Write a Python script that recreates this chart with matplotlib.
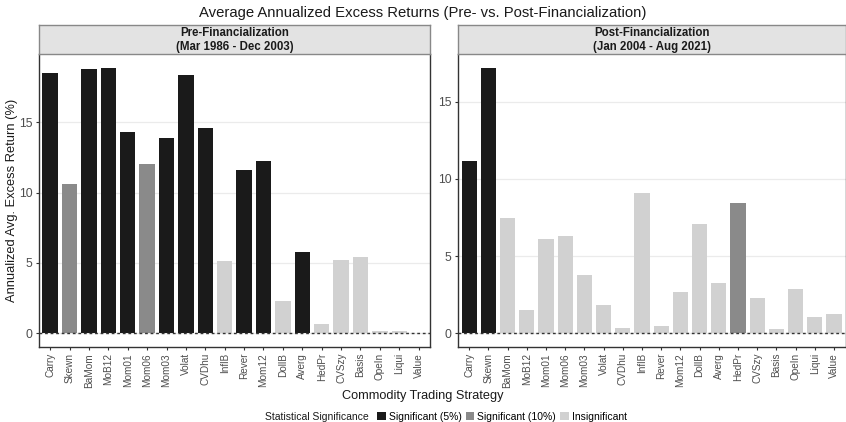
import matplotlib
matplotlib.use("Agg")
import matplotlib.pyplot as plt
from matplotlib.patches import Patch
import numpy as np

plt.rcParams['font.family'] = ['Liberation Sans', 'DejaVu Sans']

strategies = ["Carry", "Skewn", "BaMom", "MoB12", "Mom01", "Mom06", "Mom03", "Volat",
              "CVDhu", "InflB", "Rever", "Mom12", "DollB", "Averg", "HedPr", "CVSzy",
              "Basis", "OpeIn", "Liqui", "Value"]

pre_returns = [18.5, 10.6, 18.75, 18.87, 14.3, 12.05, 13.9, 18.35, 14.6, 5.15,
               11.6, 12.25, 2.3, 5.8, 0.68, 5.22, 5.45, 0.18, 0.15, 0.02]
pre_signif = ["5", "10", "5", "5", "5", "10", "5", "5", "5", "ns",
              "5", "5", "ns", "5", "ns", "ns", "ns", "ns", "ns", "ns"]

post_returns = [11.15, 17.2, 7.48, 1.53, 6.12, 6.31, 3.79, 1.86, 0.37, 9.1,
                0.5, 2.7, 7.09, 3.28, 8.44, 2.31, 0.3, 2.89, 1.08, 1.27]
post_signif = ["5", "5", "ns", "ns", "ns", "ns", "ns", "ns", "ns", "ns",
               "ns", "ns", "ns", "ns", "10", "ns", "ns", "ns", "ns", "ns"]

panel_titles = ["Pre-Financialization\n(Mar 1986 - Dec 2003)",
                "Post-Financialization\n(Jan 2004 - Aug 2021)"]
legend_labels = {"5": "Significant (5%)", "10": "Significant (10%)", "ns": "Insignificant"}
fill = {"5": "#1a1a1a", "10": "#8a8a8a", "ns": "#d1d1d1"}

W, H = 846, 422
fig = plt.figure(figsize=(W / 100, H / 100), dpi=100)


def px_axes(x0, y0, x1, y1):
    return fig.add_axes([x0 / W, 1 - y1 / H, (x1 - x0) / W, (y1 - y0) / H])


panels = [(38.5, 430.3, pre_returns, pre_signif, panel_titles[0]),
          (457.7, 845.5, post_returns, post_signif, panel_titles[1])]

strip_top, strip_bot, panel_bot = 25.3, 54.3, 346.7
tick_grey = "#4d4d4d"

for x0, x1, vals, sig, title in panels:
    ax = px_axes(x0, strip_bot, x1, panel_bot)
    n = len(strategies)
    x = np.arange(n)
    ax.bar(x, vals, width=0.8, color=[fill[s] for s in sig], zorder=2)
    vmax = max(max(vals), 0)
    vmin = min(min(vals), 0)
    rng = vmax - vmin
    ax.set_ylim(vmin - 0.05 * rng, vmax + 0.05 * rng)
    ax.set_xlim(-0.6, n - 0.4)
    ax.axhline(0, color="#333333", linestyle=(0, (2, 2)), linewidth=1.0, zorder=3)
    ax.set_yticks([0, 5, 10, 15])
    ax.yaxis.grid(True, color="#ebebeb", linewidth=0.9, zorder=0)
    ax.set_axisbelow(True)
    ax.set_xticks(x)
    ax.set_xticklabels(strategies, rotation=90, fontsize=7.2, color=tick_grey)
    ax.tick_params(axis="y", labelsize=8.8, labelcolor=tick_grey, length=2.5,
                   width=0.8, color="#333333", pad=2)
    ax.tick_params(axis="x", length=2.5, width=0.8, color="#333333", pad=2)
    for side in ["left", "bottom", "right"]:
        ax.spines[side].set_color("#333333")
        ax.spines[side].set_linewidth(1.0)
    ax.spines["top"].set_visible(False)

    sax = px_axes(x0, strip_top, x1, strip_bot)
    sax.set_xticks([])
    sax.set_yticks([])
    sax.set_facecolor("#e3e3e3")
    for sp in sax.spines.values():
        sp.set_color("#888888")
        sp.set_linewidth(1.0)
    sax.text(0.5, 0.5, title, ha="center", va="center", fontsize=8.3,
             fontweight="bold", color="#1a1a1a", linespacing=1.2,
             transform=sax.transAxes)

fig.text(0.5, 1 - 12.5 / H, "Average Annualized Excess Returns (Pre- vs. Post-Financialization)",
         ha="center", va="center", fontsize=10.7, color="#1a1a1a")
fig.text(12 / W, 1 - 200 / H, "Annualized Avg. Excess Return (%)", rotation=90,
         ha="center", va="center", fontsize=9.3, color="#1a1a1a")
fig.text(0.5, 1 - 395.5 / H, "Commodity Trading Strategy", ha="center", va="center",
         fontsize=9.2, color="#1a1a1a")

fig.text(368.5 / W, 1 - 416.5 / H, "Statistical Significance", ha="right", va="center",
         fontsize=7.5, color="#1a1a1a")
handles = [Patch(facecolor=fill[k], edgecolor="none", label=legend_labels[k])
           for k in ["5", "10", "ns"]]
fig.legend(handles=handles, loc="center left", bbox_to_anchor=(377 / W, 1 - 416.5 / H),
           ncol=3, frameon=False, fontsize=7.5, handlelength=0.85, handleheight=0.85,
           handletextpad=0.3, columnspacing=0.35, borderpad=0, borderaxespad=0)

fig.savefig("out.png", dpi=100)
